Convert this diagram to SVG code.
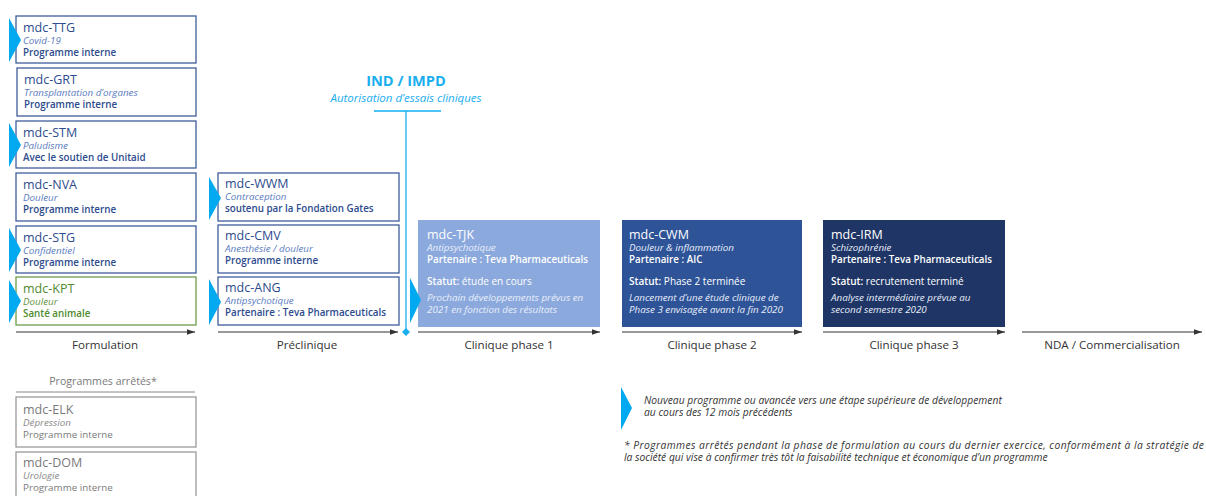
<svg xmlns="http://www.w3.org/2000/svg" width="1206" height="496" viewBox="0 0 1206 496">
<defs>
<style>
text{font-family:"Open Sans","Noto Sans","Liberation Sans",sans-serif}
.box{fill:#fff;stroke:#3f5d9c;stroke-width:1.3}
.gbox{fill:#fff;stroke:#6e9c4c;stroke-width:1.3}
.sbox{fill:#fff;stroke:#9a9a9a;stroke-width:1.3}
.t{font-size:12.5px;fill:#2d4b8d}
.i{font-size:9.8px;font-style:italic;fill:#5a7cc0}
.p{font-size:9.8px;font-weight:600;fill:#2d4b8d}
.gt{font-size:12.5px;fill:#4f8a2f}
.gi{font-size:9.8px;font-style:italic;fill:#5f9440}
.gp{font-size:9.8px;font-weight:600;fill:#4f8a2f}
.st{font-size:12.5px;fill:#7a7a7a}
.si{font-size:9.8px;font-style:italic;fill:#8a8a8a}
.sp{font-size:9.8px;fill:#7a7a7a}
.wt{font-size:12.5px;fill:#fff}
.wi{font-size:9.8px;font-style:italic;fill:#e9effa}
.wp{font-size:9.8px;font-weight:600;fill:#fff}
.ws{font-size:10px;fill:#fff}
.tri{fill:#00a9f0}
.ax{stroke:#333;stroke-width:1.1;fill:none}
.lab{font-size:11.6px;fill:#333;text-anchor:middle}
.note{font-size:10.3px;font-style:italic;fill:#333}
</style>
<marker id="ah" viewBox="0 0 10 10" refX="10" refY="5" markerWidth="8" markerHeight="8" markerUnits="userSpaceOnUse" orient="auto">
<path d="M0,1.5 L10,5 L0,8.5 z" fill="#333"/>
</marker>
</defs>

<g id="connectors">
<line class="ax" x1="16" y1="332" x2="195" y2="332" marker-end="url(#ah)"/>
<line class="ax" x1="218" y1="332" x2="398" y2="332" marker-end="url(#ah)"/>
<line class="ax" x1="418" y1="332" x2="600" y2="332" marker-end="url(#ah)"/>
<line class="ax" x1="622" y1="332" x2="802" y2="332" marker-end="url(#ah)"/>
<line class="ax" x1="823" y1="332" x2="1005" y2="332" marker-end="url(#ah)"/>
<line class="ax" x1="1022" y1="332" x2="1202" y2="332" marker-end="url(#ah)"/>
<line x1="16" y1="392" x2="195" y2="392" stroke="#888" stroke-width="1"/>
</g>

<g id="axis-labels">
<text class="lab" x="105" y="349">Formulation</text>
<text class="lab" x="307" y="349">Préclinique</text>
<text class="lab" x="509" y="349">Clinique phase 1</text>
<text class="lab" x="712" y="349">Clinique phase 2</text>
<text class="lab" x="914" y="349">Clinique phase 3</text>
<text class="lab" x="1112" y="349">NDA / Commercialisation</text>
</g>

<g id="ind-impd">
<text x="406" y="86" text-anchor="middle" font-size="14.6" font-weight="bold" fill="#1aaeef">IND / IMPD</text>
<text x="406" y="101.5" text-anchor="middle" font-size="11.5" font-style="italic" fill="#1aaeef">Autorisation d’essais cliniques</text>
<line x1="374" y1="111" x2="441" y2="111" stroke="#4cc3f5" stroke-width="1.8"/>
<line x1="406" y1="111" x2="406" y2="332" stroke="#1aaeef" stroke-width="1.3"/>
<path d="M406,328 L410,332 L406,336 L402,332 z" fill="#1aaeef"/>
</g>

<g id="node-ttg">
<rect class="box" x="16" y="16" width="180" height="47"/>
<path class="tri" d="M9,18 L21,40 L9,62 z"/>
<text class="t" x="23" y="32">mdc-TTG</text>
<text class="i" x="23" y="44">Covid-19</text>
<text class="p" x="23" y="56">Programme interne</text>
</g>
<g id="node-grt">
<rect class="box" x="17" y="68" width="179" height="48"/>
<text class="t" x="24" y="84">mdc-GRT</text>
<text class="i" x="24" y="96">Transplantation d’organes</text>
<text class="p" x="24" y="108">Programme interne</text>
</g>
<g id="node-stm">
<rect class="box" x="16" y="121" width="180" height="47"/>
<path class="tri" d="M9,123 L21,145 L9,167 z"/>
<text class="t" x="23" y="137">mdc-STM</text>
<text class="i" x="23" y="149">Paludisme</text>
<text class="p" x="23" y="161">Avec le soutien de Unitaid</text>
</g>
<g id="node-nva">
<rect class="box" x="16" y="173" width="180" height="48"/>
<text class="t" x="23" y="189">mdc-NVA</text>
<text class="i" x="23" y="201">Douleur</text>
<text class="p" x="23" y="213">Programme interne</text>
</g>
<g id="node-stg">
<rect class="box" x="16" y="226" width="180" height="47"/>
<path class="tri" d="M9,228 L21,250 L9,272 z"/>
<text class="t" x="23" y="242">mdc-STG</text>
<text class="i" x="23" y="254">Confidentiel</text>
<text class="p" x="23" y="266">Programme interne</text>
</g>
<g id="node-kpt">
<rect class="gbox" x="16" y="277" width="180" height="48"/>
<path class="tri" d="M9,280 L21,301 L9,323 z"/>
<text class="gt" x="23" y="293">mdc-KPT</text>
<text class="gi" x="23" y="305">Douleur</text>
<text class="gp" x="23" y="317">Santé animale</text>
</g>

<g id="node-wwm">
<rect class="box" x="218" y="173" width="181" height="48"/>
<path class="tri" d="M209,177 L221,198 L209,220 z"/>
<text class="t" x="225" y="188">mdc-WWM</text>
<text class="i" x="225" y="200">Contraception</text>
<text class="p" x="225" y="212">soutenu par la Fondation Gates</text>
</g>
<g id="node-cmv">
<rect class="box" x="218" y="225" width="181" height="48"/>
<text class="t" x="225" y="240">mdc-CMV</text>
<text class="i" x="225" y="252">Anesthésie / douleur</text>
<text class="p" x="225" y="264">Programme interne</text>
</g>
<g id="node-ang">
<rect class="box" x="218" y="277" width="181" height="48"/>
<path class="tri" d="M209,279 L221,302 L209,325 z"/>
<text class="t" x="225" y="292">mdc-ANG</text>
<text class="i" x="225" y="304">Antipsychotique</text>
<text class="p" x="225" y="316">Partenaire : Teva Pharmaceuticals</text>
</g>

<g id="node-tjk">
<rect x="418" y="220" width="182" height="107" fill="#8ba9dd"/>
<path class="tri" d="M410,278 L421,300 L410,323 z"/>
<text class="wt" x="427" y="238.5">mdc-TJK</text>
<text class="wi" x="427" y="251">Antipsychotique</text>
<text class="wp" x="427" y="263">Partenaire : Teva Pharmaceuticals</text>
<text class="ws" x="427" y="285"><tspan font-weight="600">Statut:</tspan> étude en cours</text>
<text class="wi" x="427" y="301">Prochain développements prévus en</text>
<text class="wi" x="427" y="313">2021 en fonction des résultats</text>
</g>
<g id="node-cwm">
<rect x="622" y="220" width="180" height="107" fill="#2e5397"/>
<text class="wt" x="629" y="238.5">mdc-CWM</text>
<text class="wi" x="629" y="251">Douleur &amp; inflammation</text>
<text class="wp" x="629" y="263">Partenaire : AIC</text>
<text class="ws" x="629" y="285"><tspan font-weight="600">Statut:</tspan> Phase 2 terminée</text>
<text class="wi" x="629" y="301">Lancement d’une étude clinique de</text>
<text class="wi" x="629" y="313">Phase 3 envisagée avant la fin 2020</text>
</g>
<g id="node-irm">
<rect x="823" y="220" width="182" height="107" fill="#1e3566"/>
<text class="wt" x="831" y="238.5">mdc-IRM</text>
<text class="wi" x="831" y="251">Schizophrénie</text>
<text class="wp" x="831" y="263">Partenaire : Teva Pharmaceuticals</text>
<text class="ws" x="831" y="285"><tspan font-weight="600">Statut:</tspan> recrutement terminé</text>
<text class="wi" x="831" y="301">Analyse intermédiaire prévue au</text>
<text class="wi" x="831" y="313">second semestre 2020</text>
</g>

<g id="stopped">
<text x="103" y="385" text-anchor="middle" font-size="10.6" fill="#7a7a7a">Programmes arrêtés*</text>
<g id="node-elk">
<rect class="sbox" x="16" y="397" width="180" height="50"/>
<text class="st" x="23" y="414">mdc-ELK</text>
<text class="si" x="23" y="426">Dépression</text>
<text class="sp" x="23" y="438">Programme interne</text>
</g>
<g id="node-dom">
<rect class="sbox" x="16" y="452" width="180" height="50"/>
<text class="st" x="23" y="467">mdc-DOM</text>
<text class="si" x="23" y="479">Urologie</text>
<text class="sp" x="23" y="491">Programme interne</text>
</g>
</g>

<g id="legend">
<path class="tri" d="M621,387 L632,408 L621,430 z"/>
<text class="note" x="644" y="404">Nouveau programme ou avancée vers une étape supérieure de développement</text>
<text class="note" x="644" y="416">au cours des 12 mois précédents</text>
<text class="note" x="624" y="449" textLength="580" lengthAdjust="spacing">* Programmes arrêtés pendant la phase de formulation au cours du dernier exercice, conformément à la stratégie de</text>
<text class="note" x="624" y="461">la société qui vise à confirmer très tôt la faisabilité technique et économique d’un programme</text>
</g>
</svg>
